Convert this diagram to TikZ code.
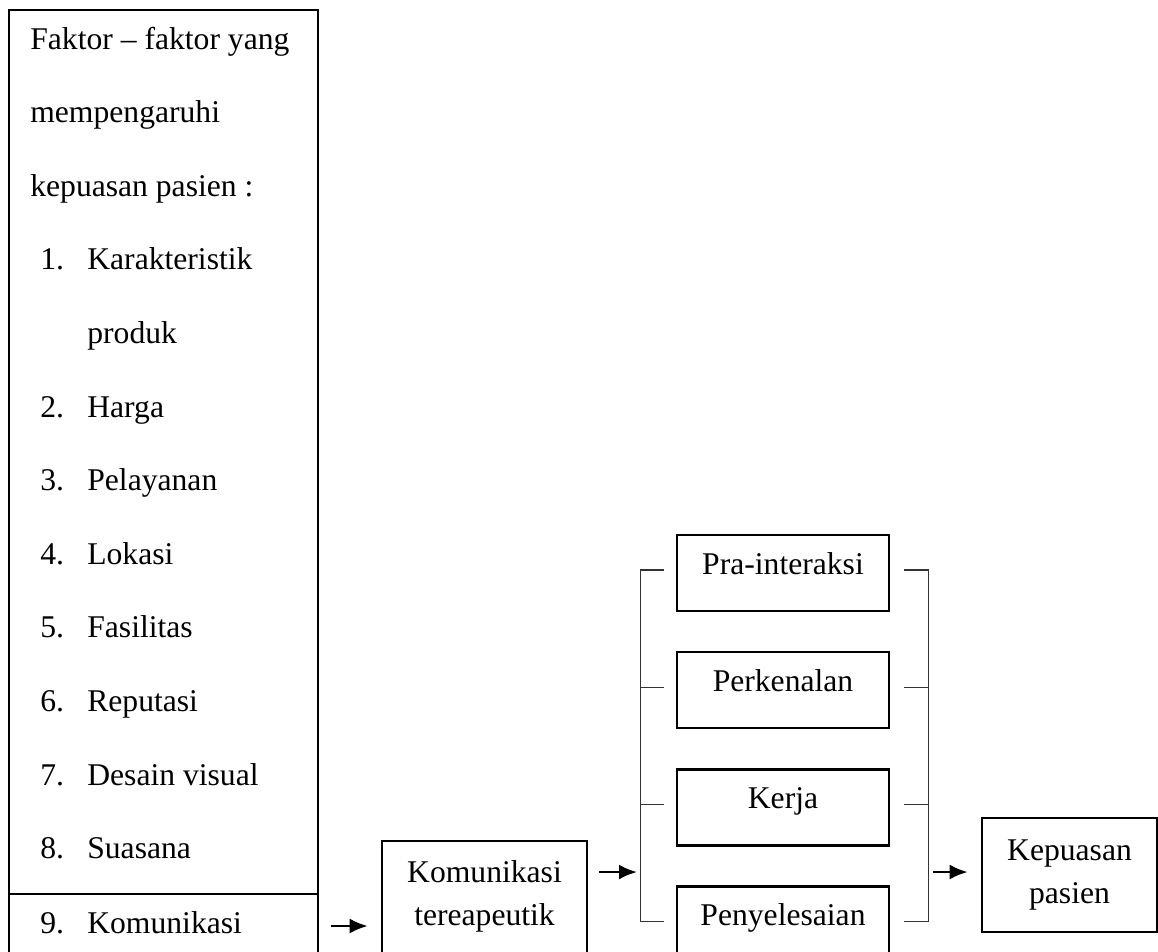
\documentclass[tikz,border=0pt]{standalone}
\usepackage{fontspec}
\setmainfont{Liberation Serif}
\usetikzlibrary{positioning, arrows.meta}

\tikzset{
	box/.style = {draw, line width=1.5pt, inner sep=0pt},
	stage/.style = {box, minimum width=4.24cm, minimum height=1.52cm, text height=0.4cm, text depth=0.36cm},
	item/.style = {anchor=base west, inner sep=0pt},
	tick/.style = {line width=0.6pt, black!80},
	arr/.style = {-{Latex[length=0.36cm, width=0.3cm]}, line width=1.5pt},
}

\begin{document}
\begin{tikzpicture}[x=0.02cm, y=-0.02cm, font=\fontsize{18}{24.4}\selectfont]
			\clip (0,0) rectangle (1158,951);
			% left column
			\node[box, minimum width=6.18cm, minimum height=17.68cm] (faktor) at (163.5,452) {};
			\node[box, minimum width=6.18cm, minimum height=2cm] (kom9) at (163.5,944) {};
			\node[item] (head1) at (30,49) {Faktor \textendash{} faktor yang};
			\node[item] (head2) at (30,122.6) {mempengaruhi};
			\node[item] (head3) at (30,196.2) {kepuasan pasien :};
			\foreach \n/\txt/\row in {1/Karakteristik/3, 2/Harga/5, 3/Pelayanan/6, 4/Lokasi/7, 5/Fasilitas/8, 6/Reputasi/9, 7/Desain visual/10, 8/Suasana/11} {
				\node[item] (num\n) at (40,{49+73.6*\row}) {\n.};
				\node[item] (txt\n) at (87,{49+73.6*\row}) {\txt};
			}
			\node[item] (txt1b) at (87,343.6) {produk};
			\node[item] (num9) at (40,933) {9.};
			\node[item] (txt9) at (87,933) {Komunikasi};
			% middle
			\node[box, minimum width=4.1cm, minimum height=3.2cm] (komter) at (484.5,921) {};
			\node[align=center] (komterTxt) at (484.5,896) {Komunikasi\\tereapeutik};
			\node[stage] (pra) at (783,573) {Pra-interaksi};
			\node[stage, below=0.77cm of pra] (kenal) {Perkenalan};
			\node[stage, below=0.77cm of kenal] (kerja) {Kerja};
			\node[stage, below=0.77cm of kerja] (selesai) {Penyelesaian};
			\node[box, minimum width=3.5cm, minimum height=2.28cm, align=center] (puas) at (1069.5,875) {Kepuasan\\pasien};
			% brackets
			\draw[tick] ([xshift=-0.24cm, yshift=0.06cm]pra.west) -- ++(-23,0) |- ([xshift=-0.24cm, yshift=0.06cm]selesai.west);
			\draw[tick] ([xshift=0.28cm, yshift=0.06cm]pra.east) -- ++(24,0) |- ([xshift=0.28cm, yshift=0.06cm]selesai.east);
			\foreach \s in {kenal,kerja} {
				\draw[tick] ([xshift=-0.24cm, yshift=0.06cm]\s.west) -- ++(-23,0);
				\draw[tick] ([xshift=0.28cm, yshift=0.06cm]\s.east) -- ++(24,0);
			}
			\coordinate (inL) at (642,872);
			\coordinate (outR) at (927,872);
			% arrows
			\draw[arr, shorten <=0.24cm, shorten >=0.26cm] (kom9.east |- 0,926) -- (komter.west |- 0,926);
			\draw[arr, shorten <=0.22cm, shorten >=0.1cm] (komter.east |- inL) -- (inL);
			\draw[arr, shorten <=0.12cm, shorten >=0.26cm] (outR) -- (puas.west |- outR);
		\end{tikzpicture}
\end{document}
